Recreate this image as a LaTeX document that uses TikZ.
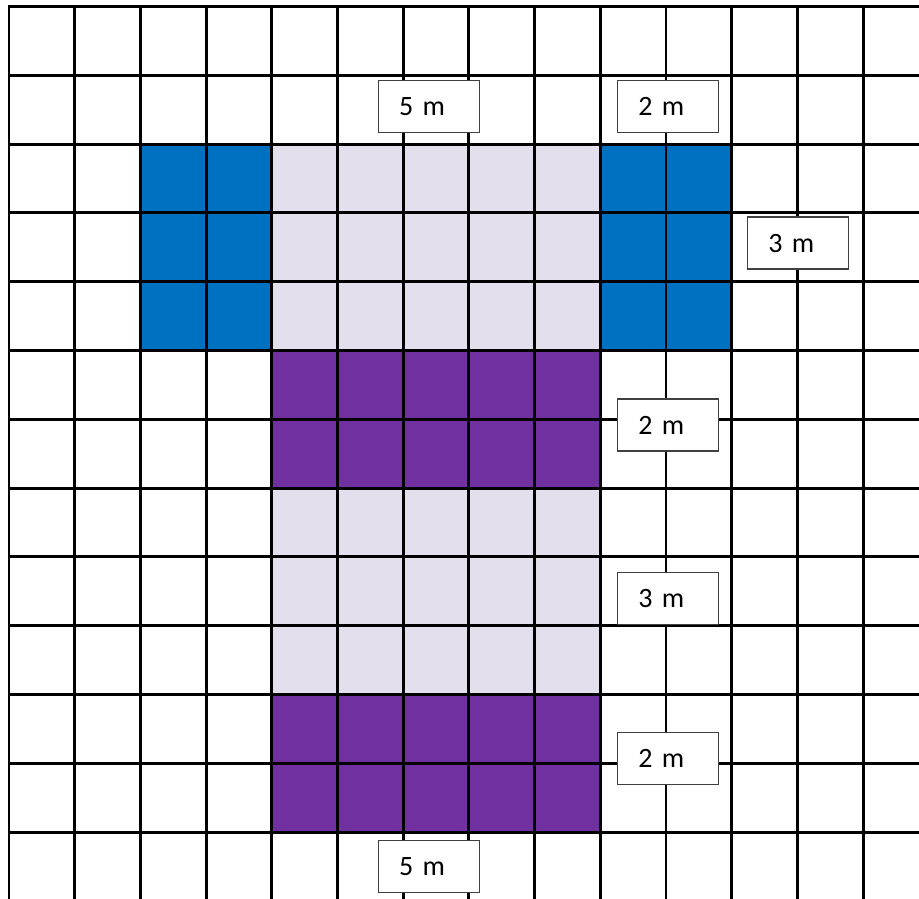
\documentclass[tikz,border=0pt]{standalone}
\usepackage{fontspec}
\setmainfont{Carlito}
\usepackage{tikz}

\definecolor{tileblue}{RGB}{0,112,192}
\definecolor{tilepurple}{RGB}{112,48,160}
\definecolor{tilelilac}{RGB}{228,223,236}
\definecolor{boxgray}{RGB}{64,64,64}

\tikzset{
  gridline/.style={line width=1.45pt, line cap=rect},
  sizebox/.style={draw=boxgray, line width=0.6pt, fill=white, font=\fontsize{14pt}{16pt}\selectfont,
    text width=29.5pt, align=left, inner xsep=10.5pt, inner ysep=0pt, minimum height=26pt}
}

\begin{document}
\begin{tikzpicture}[x=32.85pt, y=-34.4pt]
      \useasboundingbox (-0.137, -0.0945) rectangle (13.851, 12.972);
      % coloured tiles
      \fill[tileblue] (2, 2) rectangle (4, 5);
      \fill[tileblue] (9, 2) rectangle (11, 5);
      \fill[tilelilac] (4, 2) rectangle (9, 5);
      \fill[tilepurple] (4, 5) rectangle (9, 7);
      \fill[tilelilac] (4, 7) rectangle (9, 10);
      \fill[tilepurple] (4, 10) rectangle (9, 12);
      % grid
      \foreach \i in {0,...,13}
        \draw[gridline] (\i, 0) -- (\i, 13.1);
      \foreach \j in {0,...,12}
        \draw[gridline] (0, \j) -- (14, \j);
      % measurements
      \node[sizebox] (topwidth) at (6.388, 1.456) {5 m};
      \node[sizebox] (sidewidth) at (10.03, 1.456) {2 m};
      \node[sizebox] (sidedepth) at (12.006, 3.438) {3 m};
      \node[sizebox] (band1) at (10.027, 6.083) {2 m};
      \node[sizebox] (gap) at (10.027, 8.605) {3 m};
      \node[sizebox] (band2) at (10.027, 10.93) {2 m};
      \node[sizebox] (botwidth) at (6.388, 12.503) {5 m};
    \end{tikzpicture}
\end{document}
